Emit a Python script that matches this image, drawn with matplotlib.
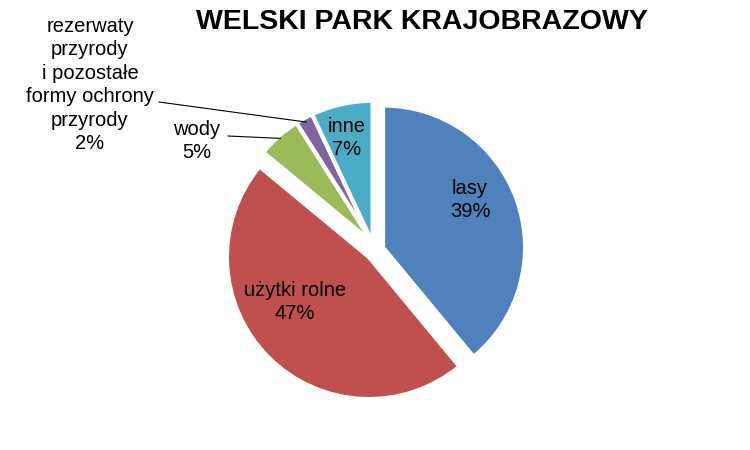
import numpy as np
import matplotlib

matplotlib.use('Agg')
import matplotlib.pyplot as plt

plt.rcParams['font.family'] = ['Liberation Sans', 'DejaVu Sans']

# dane: udział form użytkowania terenu (%)
labels = ['lasy', 'użytki rolne', 'wody',
          'rezerwaty\nprzyrody\ni pozostałe\nformy ochrony\nprzyrody', 'inne']
values = [39, 47, 5, 2, 7]
colors = ['#4F81BD', '#C0504D', '#9BBB59', '#8064A2', '#4BACC6']
title = 'WELSKI PARK KRAJOBRAZOWY'

W, H = 750, 450
fig = plt.figure(figsize=(W / 100, H / 100), dpi=100)
ax = fig.add_axes([0, 0, 1, 1])
ax.set_xlim(0, W)
ax.set_ylim(0, H)
ax.axis('off')

cx, cy, R = 376, H - 250, 142
wedges, _ = ax.pie(values, colors=colors, startangle=90, counterclock=False,
                   center=(cx, cy), radius=R,
                   wedgeprops=dict(edgecolor='white', linewidth=3))
ax.set_xlim(0, W)
ax.set_ylim(0, H)
ax.set_aspect('equal')

# wysunięcie: lasy, użytki rolne, reszta razem
def shift(ws, dist):
    t1 = min(w.theta1 for w in ws)
    t2 = max(w.theta2 for w in ws)
    a = np.deg2rad((t1 + t2) / 2)
    for w in ws:
        w.set_center((cx + dist * np.cos(a), cy + dist * np.sin(a)))

shift([wedges[0]], 7.5)
shift([wedges[1]], 10)
shift(wedges[2:], 8)

def edge_point(w, k=0.98):
    a = np.deg2rad((w.theta1 + w.theta2) / 2)
    x0, y0 = w.center
    return x0 + k * R * np.cos(a), y0 + k * R * np.sin(a)

fs = 14.5
ls = 1.3
pct = ['%d%%' % v for v in values]
ax.text(470, H - 200, labels[0] + '\n' + pct[0], ha='center', va='center', fontsize=fs, linespacing=ls)
ax.text(295, H - 302, labels[1] + '\n' + pct[1], ha='center', va='center', fontsize=fs, linespacing=ls)
ax.text(347, H - 138, labels[4] + '\n' + pct[4], ha='center', va='center', fontsize=fs, linespacing=ls)
ax.text(197, H - 141, labels[2] + '\n' + pct[2], ha='center', va='center', fontsize=fs, linespacing=ls)
ax.text(90, H - 85, labels[3] + '\n' + pct[3], ha='center', va='center', fontsize=fs, linespacing=ls)

# linie odniesienia
ex, ey = edge_point(wedges[2])
ax.plot([228, ex], [H - 136, ey], color='black', lw=0.8)
ex, ey = edge_point(wedges[3], 0.97)
ax.plot([159, ex], [H - 102, ey], color='black', lw=0.8)

ax.text(422, H - 22, title, ha='center', va='center', fontsize=20.5, fontweight='bold')

fig.savefig('out.png', dpi=100)
